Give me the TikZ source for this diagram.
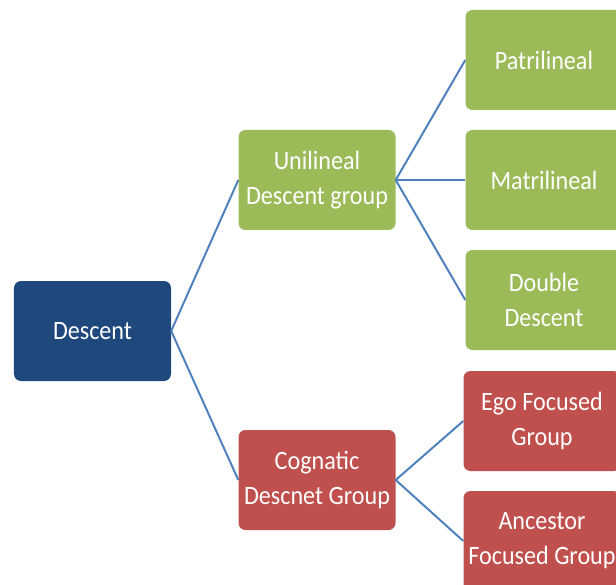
\documentclass[tikz,border=0pt]{standalone}
\usepackage{fontspec}
\setmainfont{Carlito}[FakeStretch=0.91]
\usepackage{tikz}
\usetikzlibrary{positioning}

\definecolor{rootblue}{HTML}{1F497D}
\definecolor{unigreen}{HTML}{9BBB59}
\definecolor{cogred}{HTML}{C0504D}
\definecolor{linkblue}{HTML}{4F81BD}

\begin{document}
\begin{tikzpicture}[%
node distance=120pt,
on grid,
box/.style={rectangle, rounded corners=7pt, minimum width=157pt, minimum height=100pt,
  inner sep=0pt, text=white, align=center, font=\fontsize{26.5}{35}\selectfont},
root/.style={box, fill=rootblue},
uni/.style={box, fill=unigreen},
cog/.style={box, fill=cogred},
link/.style={draw=linkblue, line width=2pt}
]

\clip (-92.5pt,-253pt) rectangle (523.5pt,331pt);

\node[root] (descent) {Descent};
\node[uni] (unilineal) [above right=151pt and 224.5pt of descent] {Unilineal\\Descent group};
\node[cog] (cognatic) [below right=149pt and 224.5pt of descent] {Cognatic\\Descnet Group};
\node[uni] (matri) [right=227pt of unilineal] {Matrilineal};
\node[uni] (patri) [above=of matri] {Patrilineal};
\node[uni] (double) [below=of matri] {Double\\Descent};
\node[cog] (ego) [above right=59pt and 225pt of cognatic] {Ego Focused\\Group};
\node[cog] (ancestor) [below=of ego] {Ancestor\\Focused Group};

\path[link] (descent.east) edge (unilineal.west);
\path[link] (descent.east) edge (cognatic.west);
\path[link] (unilineal.east) edge (patri.west);
\path[link] (unilineal.east) edge (matri.west);
\path[link] (unilineal.east) edge (double.west);
\path[link] (cognatic.east) edge (ego.west);
\path[link] (cognatic.east) edge (ancestor.west);

\end{tikzpicture}
\end{document}
